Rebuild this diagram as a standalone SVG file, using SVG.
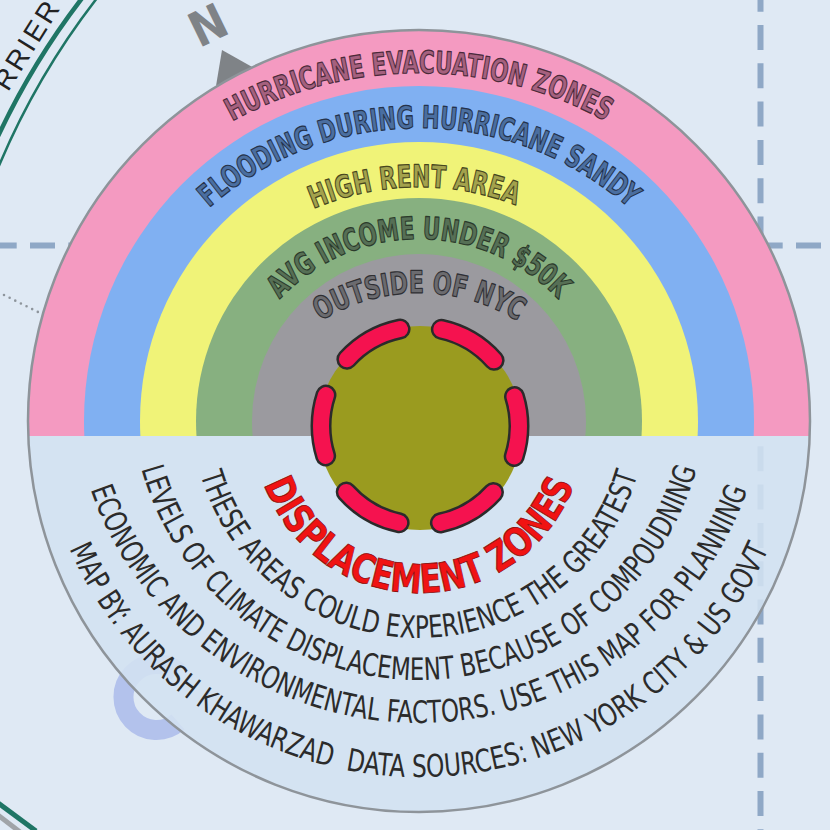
<svg xmlns="http://www.w3.org/2000/svg" width="830" height="830" viewBox="0 0 830 830">
<defs>
<style>
.bt{font-family:'DejaVu Sans Condensed','DejaVu Sans',sans-serif;font-stretch:condensed;font-weight:bold;font-size:31px;stroke-width:1.2;stroke-linejoin:round}
.lt{font-family:'Liberation Sans Narrow','DejaVu Sans Condensed','DejaVu Sans',sans-serif;font-stretch:condensed;font-size:31px;fill:#2b2b2b}
.grid{fill:none;stroke:#8fa8c6;stroke-width:6;stroke-dasharray:25 13.3}
.teal{fill:none;stroke:#1f7565}
</style>
<clipPath id="top"><rect x="0" y="0" width="830" height="436"/></clipPath>
<clipPath id="bot"><rect x="0" y="436" width="830" height="394"/></clipPath>
<path id="p1" d="M34,458 A385,385 0 0 1 804,458"/>
<path id="p2" d="M103,444 A316,316 0 0 1 735,444"/>
<path id="p3" d="M151,455 A268,268 0 0 1 687,455"/>
<path id="p4" d="M228,430 A191,191 0 0 1 610,430"/>
<path id="p5" d="M232,480 A187,187 0 0 1 606,480"/>
<path id="pr" d="M254,428 A165,165 0 0 0 584,428"/>
<path id="l1" d="M191,410 A228,228 0 0 0 647,410"/>
<path id="l2" d="M131,392 A288,288 0 0 0 707,392"/>
<path id="l3" d="M71,375 A348,348 0 0 0 767,375"/>
<path id="l4" d="M37,395 A382,382 0 0 0 801,395"/>
</defs>

<rect id="background" x="0" y="0" width="830" height="830" fill="#dfe9f4"/>

<g id="map-backdrop">
  <path d="M178,672 A33,33 0 1 0 178,722" fill="none" stroke="#b3c2ec" stroke-width="20"/>
  <line class="grid" x1="760.5" y1="-13.3" x2="760.5" y2="840"/>
  <line class="grid" x1="-8.3" y1="245.5" x2="840" y2="245.5"/>
  <line x1="4" y1="295" x2="40" y2="313" stroke="#8e959c" stroke-width="2.6" stroke-linecap="round" stroke-dasharray="0 6.3"/>
  <path class="teal" stroke-width="4.5" d="M90,-12 A749,749 0 0 0 -6,145"/>
  <path class="teal" stroke-width="2.5" d="M105,-12 A740,740 0 0 0 -6,178"/>
  <line x1="-2" y1="815" x2="20" y2="832" stroke="#a0a4a8" stroke-width="5"/>
  <line class="teal" x1="-2" y1="803" x2="36" y2="831" stroke-width="5"/>
  <text transform="translate(62,6) rotate(-58)" text-anchor="end" font-family="'Liberation Sans',Arial,sans-serif" font-size="28" letter-spacing="3" fill="#222">RRIER</text>
  <g id="compass" fill="#7f8387">
    <polygon points="222,50 216,86 254,68"/>
    <text transform="translate(208,25) rotate(-26)" x="0" y="17" text-anchor="middle" font-family="'DejaVu Sans Condensed','DejaVu Sans',sans-serif" font-stretch="condensed" font-weight="bold" font-size="48">N</text>
  </g>
</g>

<g id="band-hurricane-evacuation">
  <circle cx="419" cy="421" r="391" fill="#f49ac1" clip-path="url(#top)"/>
  <text class="bt" fill="#a5607e" stroke="#4a2a3a"><textPath href="#p1" startOffset="50%" text-anchor="middle" textLength="390" lengthAdjust="spacingAndGlyphs">HURRICANE EVACUATION ZONES</textPath></text>
</g>
<g id="band-flooding-sandy">
  <circle cx="419" cy="421" r="335" fill="#80b0f2" clip-path="url(#top)"/>
  <text class="bt" fill="#4a6ea0" stroke="#25324a"><textPath href="#p2" startOffset="50%" text-anchor="middle" textLength="459" lengthAdjust="spacingAndGlyphs">FLOODING DURING HURRICANE SANDY</textPath></text>
</g>
<g id="band-high-rent">
  <circle cx="419" cy="421" r="279" fill="#f0f378" clip-path="url(#top)"/>
  <text class="bt" fill="#a3a24c" stroke="#47461e"><textPath href="#p3" startOffset="416" text-anchor="middle" textLength="208" lengthAdjust="spacingAndGlyphs">HIGH RENT AREA</textPath></text>
</g>
<g id="band-avg-income">
  <circle cx="419" cy="421" r="223" fill="#87b080" clip-path="url(#top)"/>
  <text class="bt" fill="#566f55" stroke="#2b3a2b"><textPath href="#p4" startOffset="50%" text-anchor="middle" textLength="312" lengthAdjust="spacingAndGlyphs">AVG INCOME UNDER $50K</textPath></text>
</g>
<g id="band-outside-nyc">
  <circle cx="419" cy="421" r="167" fill="#9b9a9f" clip-path="url(#top)"/>
  <text class="bt" fill="#6b6b6f" stroke="#2f2f33"><textPath href="#p5" startOffset="50%" text-anchor="middle" textLength="208" lengthAdjust="spacingAndGlyphs">OUTSIDE OF NYC</textPath></text>
</g>

<g id="lower-panel">
  <circle cx="419" cy="421" r="391" fill="#d3e1f1" fill-opacity="0.88" clip-path="url(#bot)"/>
</g>

<g id="displacement-zone-symbol">
  <circle cx="420" cy="428" r="102" fill="#9a9b1f"/>
  <circle cx="420" cy="426" r="99" fill="none" stroke="#2b2b2b" stroke-width="21" stroke-linecap="round" stroke-dasharray="62 41.67" stroke-dashoffset="31"/>
  <circle cx="420" cy="426" r="99" fill="none" stroke="#f5124f" stroke-width="16" stroke-linecap="round" stroke-dasharray="62 41.67" stroke-dashoffset="31"/>
</g>

<g id="displacement-text">
  <text font-family="'DejaVu Sans Condensed','DejaVu Sans',sans-serif" font-stretch="condensed" font-weight="bold" font-size="40" fill="#f01313" stroke="#8a0b0b" stroke-width="0.8"><textPath href="#pr" startOffset="50%" text-anchor="middle" textLength="403" lengthAdjust="spacingAndGlyphs">DISPLACEMENT ZONES</textPath></text>
  <text class="lt"><textPath href="#l1" startOffset="50%" text-anchor="middle" textLength="585" lengthAdjust="spacingAndGlyphs">THESE AREAS COULD EXPERIENCE THE GREATEST</textPath></text>
  <text class="lt"><textPath href="#l2" startOffset="50%" text-anchor="middle" textLength="749" lengthAdjust="spacingAndGlyphs">LEVELS OF CLIMATE DISPLACEMENT BECAUSE OF COMPOUDNING</textPath></text>
  <text class="lt"><textPath href="#l3" startOffset="50%" text-anchor="middle" textLength="859" lengthAdjust="spacingAndGlyphs">ECONOMIC AND ENVIRONMENTAL FACTORS. USE THIS MAP FOR PLANNING</textPath></text>
  <text class="lt" xml:space="preserve"><textPath href="#l4" startOffset="50%" text-anchor="middle" textLength="883" lengthAdjust="spacingAndGlyphs">MAP BY: AURASH KHAWARZAD  DATA SOURCES: NEW YORK CITY &amp; US GOVT</textPath></text>
</g>

<circle id="legend-outline" cx="419" cy="421" r="391" fill="none" stroke="#8e949a" stroke-width="2.5"/>
</svg>
